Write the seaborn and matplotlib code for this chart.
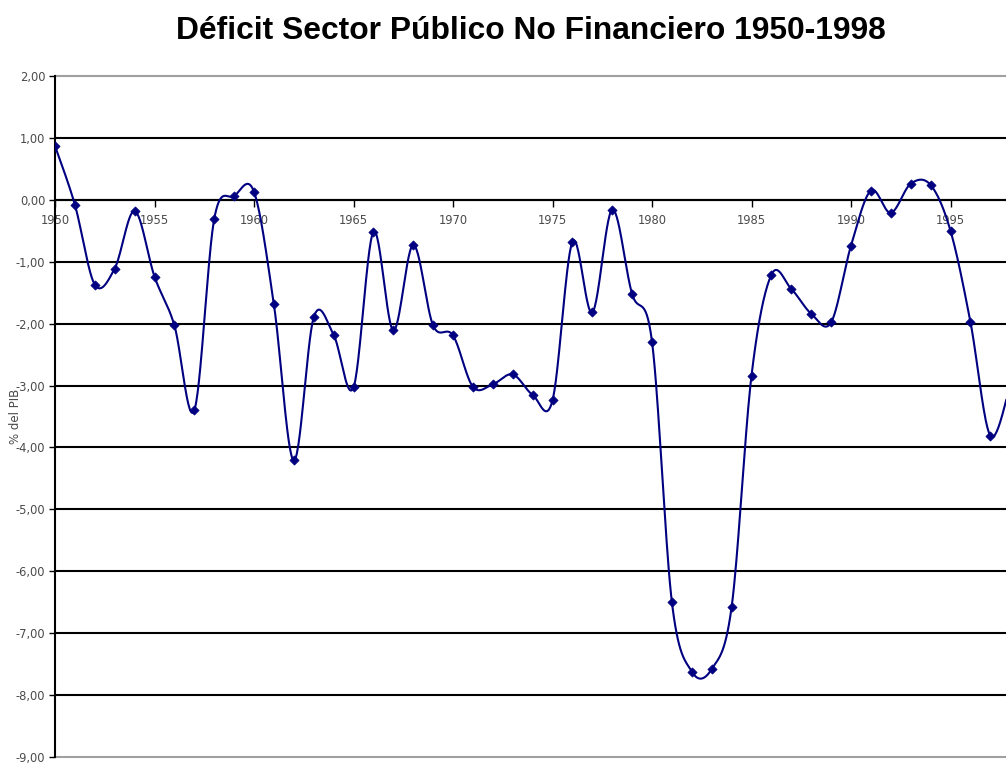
import numpy as np
import pandas as pd
import matplotlib
matplotlib.use("Agg")
import matplotlib.pyplot as plt
import seaborn as sns

years = list(range(1950, 1999))
deficit = [0.87, -0.08, -1.37, -1.11, -0.18, -1.24, -2.03, -3.40, -0.31, 0.06,
           0.13, -1.69, -4.21, -1.90, -2.18, -3.03, -0.52, -2.11, -0.73, -2.03,
           -2.19, -3.02, -2.98, -2.82, -3.15, -3.24, -0.68, -1.82, -0.16, -1.52,
           -2.29, -6.50, -7.62, -7.58, -6.58, -2.84, -1.21, -1.44, -1.84, -1.98,
           -0.74, 0.15, -0.21, 0.26, 0.24, -0.50, -1.97, -3.81, -3.00]
y_ticks = [2, 1, 0, -1, -2, -3, -4, -5, -6, -7, -8, -9]
x_ticks = list(range(1950, 1996, 5))
title = "Déficit Sector Público No Financiero 1950-1998"
ylabel = "% del PIB"

df = pd.DataFrame({"year": years, "deficit": deficit})


def catmull_rom(x, y, n=30):
    x = np.asarray(x, float)
    y = np.asarray(y, float)
    px = np.concatenate([[x[0]], x, [x[-1]]])
    py = np.concatenate([[y[0]], y, [y[-1]]])
    xs, ys = [], []
    t = np.linspace(0, 1, n, endpoint=False)
    for i in range(1, len(px) - 2):
        for arr_in, arr_out in ((px, xs), (py, ys)):
            p0, p1, p2, p3 = arr_in[i - 1], arr_in[i], arr_in[i + 1], arr_in[i + 2]
            m1 = (p2 - p0) / 2
            m2 = (p3 - p1) / 2
            h00 = 2 * t**3 - 3 * t**2 + 1
            h10 = t**3 - 2 * t**2 + t
            h01 = -2 * t**3 + 3 * t**2
            h11 = t**3 - t**2
            arr_out.extend(h00 * p1 + h10 * m1 + h01 * p2 + h11 * m2)
    xs.append(x[-1])
    ys.append(y[-1])
    return pd.DataFrame({"year": xs, "deficit": ys})


smooth = catmull_rom(df["year"], df["deficit"])

sns.set_theme(style="white")
plt.rcParams["font.family"] = ["Liberation Sans", "DejaVu Sans"]

W, H = 1006, 763
fig = plt.figure(figsize=(W / 100, H / 100), dpi=100)
left_px, right_px, top_px, bot_px = 55, 1006, 76, 757
ax = fig.add_axes([left_px / W, 1 - bot_px / H, (right_px - left_px) / W, (bot_px - top_px) / H])

navy = "#000080"
sns.lineplot(data=smooth, x="year", y="deficit", sort=False, estimator=None,
             color=navy, linewidth=1.5, ax=ax, zorder=3)
sns.scatterplot(data=df, x="year", y="deficit", marker="D", s=22, color=navy,
                edgecolor=navy, linewidth=0.5, ax=ax, zorder=4, clip_on=True)

px_per_year = 19.9
ax.set_xlim(1950, 1950 + (right_px - left_px) / px_per_year)
ax.set_ylim(-9, 2)

for v in y_ticks:
    if -9 < v < 2:
        ax.axhline(v, color="black", linewidth=1.5, zorder=1)

ax.set_yticks(y_ticks)
ax.set_yticklabels([f"{v:.2f}".replace(".", ",") for v in y_ticks])
ax.set_xticks(x_ticks)
ax.set_xticklabels([str(v) for v in x_ticks])

for s in ["top", "right"]:
    ax.spines[s].set_visible(False)
ax.spines["left"].set_color("black")
ax.spines["left"].set_linewidth(1.5)
ax.spines["bottom"].set_position(("data", 0))
ax.spines["bottom"].set_color("black")
ax.spines["bottom"].set_linewidth(1.5)
ax.axhline(2, color="#a0a0a0", linewidth=1.5, zorder=1, clip_on=False)
ax.axhline(-9, color="#a0a0a0", linewidth=1.5, zorder=1, clip_on=False)

tick_font = ["DejaVu Sans"]
ax.tick_params(axis="y", direction="out", length=4, width=1, color="black",
               labelsize=8.3, labelcolor="#4a4a4a", pad=3, left=True)
ax.tick_params(axis="x", direction="out", length=5, width=1, color="black",
               labelsize=8.3, labelcolor="#4a4a4a", pad=5, bottom=True)
for lab in ax.get_xticklabels() + ax.get_yticklabels():
    lab.set_family(tick_font)

ax.set_xlabel("")
ax.set_ylabel(ylabel, fontsize=8.5, color="#4a4a4a", family=tick_font)
ax.yaxis.set_label_coords(-0.0347, 0.5)

fig.text(531 / W, 1 - 31 / H, title, ha="center", va="center",
         fontsize=22.9, fontweight="bold", color="black")

fig.savefig("out.png", dpi=100, facecolor="white")
